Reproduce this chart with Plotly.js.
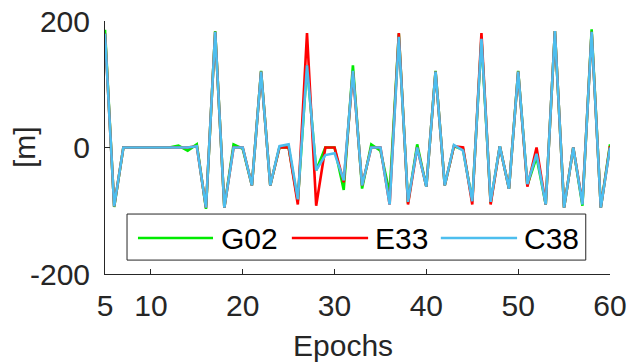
<!DOCTYPE html>
<html><head><meta charset="utf-8">
<script src="https://cdn.plot.ly/plotly-3.0.1.min.js"></script>
<style>html,body{margin:0;padding:0;background:#fff;}#chart{width:627px;height:363px;}</style>
</head><body><div id="chart"></div>
<script>
const epochs = [5,6,7,8,9,10,11,12,13,14,15,16,17,18,19,20,21,22,23,24,25,26,27,28,29,30,31,32,33,34,35,36,37,38,39,40,41,42,43,44,45,46,47,48,49,50,51,52,53,54,55,56,57,58,59,60];
const g02 = [186,-94,0,0,0,0,0,0,3,-5,5,-97,184,-95,5,-2,-60,121,-60,0,0,-85,130,-36,0,0,-67,130,-65,5,-5,-72,180,-88,5,-62,121,-60,2,-3,-85,172,-88,2,-65,121,-60,-15,-90,184,-95,0,-92,187,-95,5];
const e33 = [180,-93,0,0,0,0,0,0,0,0,2,-95,183,-95,0,0,-60,120,-60,0,0,-90,181,-92,0,0,-55,120,-60,0,0,-90,181,-90,0,-62,120,-60,2,0,-90,181,-90,2,-65,120,-62,0,-90,184,-95,0,-88,183,-95,2];
const c38 = [180,-93,0,0,0,0,0,0,0,0,2,-95,183,-95,0,0,-60,120,-60,2,5,-82,130,-36,-12,-9,-52,121,-60,0,0,-90,175,-86,0,-62,120,-60,4,-5,-85,172,-86,2,-65,120,-58,-10,-90,184,-95,0,-90,183,-95,0];
const seriesNames = ['G02','E33','C38'];
const seriesColors = ['rgb(0,235,0)','rgb(255,0,0)','rgb(77,190,238)'];
const xTicks = [5,10,20,30,40,50,60];
const yTicks = [-200,0,200];

const allY = [g02,e33,c38];
const traces = allY.map((y,i)=>({
  x: epochs, y: y, type:'scatter', mode:'lines', name: seriesNames[i],
  line:{color:seriesColors[i], width:2.6}, showlegend:false
}));

const font = {family:'"Liberation Sans", Arial, sans-serif', size:30, color:'#262626'};
const legFont = {family:'"Liberation Sans", Arial, sans-serif', size:30, color:'#000000'};
// custom legend (MATLAB style)
const legX = [[0.0653,0.2139,0.2257],[0.370,0.521,0.531],[0.665,0.816,0.826]];
const legY = 0.142;
const shapes = [{type:'rect', xref:'paper', yref:'paper', x0:0.0436, x1:0.952, y0:0.055, y1:0.237,
  line:{color:'#262626', width:1}, fillcolor:'white', layer:'above'}];
const annotations = [];
seriesNames.forEach((n,i)=>{
  shapes.push({type:'line', xref:'paper', yref:'paper', x0:legX[i][0], x1:legX[i][1], y0:legY, y1:legY,
    line:{color:seriesColors[i], width:2.6}, layer:'above'});
  annotations.push({xref:'paper', yref:'paper', x:legX[i][2], y:legY, text:n, showarrow:false,
    xanchor:'left', yanchor:'middle', font:legFont});
});
// axis titles
annotations.push({xref:'paper', yref:'paper', x:(342.5-105)/505, y:-(345-274)/253, text:'Epochs',
  showarrow:false, xanchor:'center', yanchor:'middle', font:font});
annotations.push({xref:'paper', yref:'paper', x:-(105-24)/505, y:(274-147)/253, text:'[m]', textangle:-90,
  showarrow:false, xanchor:'center', yanchor:'middle', font:font});

const layout = {
  width:627, height:363,
  margin:{l:105, r:17, t:21, b:89},
  paper_bgcolor:'white', plot_bgcolor:'white',
  font: font,
  xaxis:{range:[5,60], tickvals:xTicks, ticktext:xTicks.map(String), ticks:'inside', ticklen:5,
    tickcolor:'#262626', showline:true, linecolor:'#262626', linewidth:1, showgrid:false, zeroline:false,
    tickfont:font, ticklabelstandoff:5},
  yaxis:{range:[-200,200], tickvals:yTicks, ticktext:yTicks.map(String), ticks:'inside', ticklen:5,
    tickcolor:'#262626', showline:true, linecolor:'#262626', linewidth:1, showgrid:false, zeroline:false,
    tickfont:font, ticklabelstandoff:8},
  shapes: shapes,
  annotations: annotations
};
Plotly.newPlot('chart', traces, layout, {displayModeBar:false, staticPlot:true});
</script></body></html>
